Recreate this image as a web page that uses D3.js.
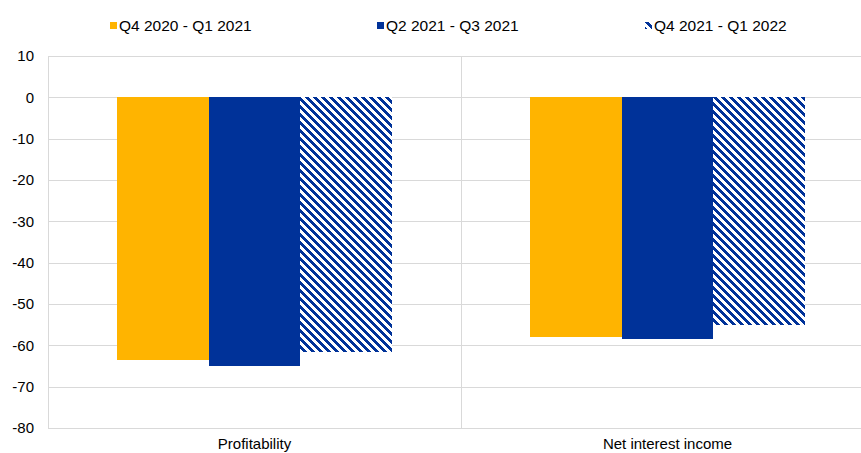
<!DOCTYPE html>
<html>
<head>
<meta charset="utf-8">
<script src="https://cdn.jsdelivr.net/npm/d3@7/dist/d3.min.js"></script>
<style>
  html, body { margin: 0; padding: 0; background: #fff; }
  svg { display: block; font-family: "Liberation Sans", Arial, sans-serif; }
</style>
</head>
<body>
<svg id="chart" width="861" height="453"></svg>
<script>
// Categories and series
const categories = ["Profitability", "Net interest income"];
const seriesNames = ["Q4 2020 - Q1 2021", "Q2 2021 - Q3 2021", "Q4 2021 - Q1 2022"];
const seriesValues = [
  [-63.5, -58.0],   // Q4 2020 - Q1 2021
  [-65.0, -58.5],   // Q2 2021 - Q3 2021
  [-61.6, -55.1]    // Q4 2021 - Q1 2022
];
const yTicks = [10, 0, -10, -20, -30, -40, -50, -60, -70, -80];

const yellow = "#FFB400";
const blue = "#003299";
const gridColor = "#d9d9d9";

const svg = d3.select("#chart");
const plot = { left: 48, right: 874, top: 56, bottom: 428 };

// Wide downward diagonal hatch, built pixel by pixel on an 8x8 tile
const defs = svg.append("defs");
const pat = defs.append("pattern")
  .attr("id", "hatch")
  .attr("patternUnits", "userSpaceOnUse")
  .attr("width", 8).attr("height", 8);
pat.append("rect").attr("width", 8).attr("height", 8).attr("fill", "#fff");
const cells = [];
for (let r = 0; r < 8; r++) {
  for (let c = 0; c < 8; c++) {
    if (((c - r) % 8 + 8) % 8 < 4) cells.push([c, r]);
  }
}
pat.selectAll("rect.px").data(cells).join("rect")
  .attr("class", "px")
  .attr("x", d => d[0]).attr("y", d => d[1])
  .attr("width", 1).attr("height", 1)
  .attr("fill", blue)
  .attr("shape-rendering", "crispEdges");

const fills = [yellow, blue, "url(#hatch)"];

// Scales
const y = d3.scaleLinear().domain([-80, 10]).range([plot.bottom, plot.top]);
const x0 = d3.scaleBand().domain(categories).range([plot.left, plot.right]).padding(0);
const x1 = d3.scaleBand().domain(d3.range(seriesNames.length))
  .range([0, x0.bandwidth()]).paddingInner(0).paddingOuter(0.752);

// Gridlines
svg.append("g").selectAll("line").data(yTicks).join("line")
  .attr("x1", plot.left).attr("x2", plot.right)
  .attr("y1", d => Math.round(y(d)) + 0.5).attr("y2", d => Math.round(y(d)) + 0.5)
  .attr("stroke", gridColor).attr("stroke-width", 1);

// Left axis line and category separators
const seps = [plot.left, x0(categories[1])];
svg.append("g").selectAll("line").data(seps).join("line")
  .attr("x1", d => Math.round(d) + 0.5).attr("x2", d => Math.round(d) + 0.5)
  .attr("y1", plot.top).attr("y2", plot.bottom)
  .attr("stroke", gridColor).attr("stroke-width", 1);

// Y tick labels
svg.append("g").selectAll("text").data(yTicks).join("text")
  .attr("x", 34).attr("y", d => y(d))
  .attr("dy", "0.36em")
  .attr("text-anchor", "end")
  .attr("font-size", 15)
  .attr("fill", "#000")
  .text(d => d);

// Bars
const barData = [];
seriesValues.forEach((vals, s) => {
  vals.forEach((v, c) => barData.push({ s, c, v }));
});
svg.append("g").selectAll("rect").data(barData).join("rect")
  .attr("x", d => x0(categories[d.c]) + x1(d.s))
  .attr("width", x1.bandwidth())
  .attr("y", d => y(Math.max(0, d.v)))
  .attr("height", d => Math.abs(y(d.v) - y(0)))
  .attr("fill", d => fills[d.s])
  .attr("shape-rendering", "crispEdges");

// Category labels
svg.append("g").selectAll("text").data(categories).join("text")
  .attr("x", d => x0(d) + x0.bandwidth() / 2)
  .attr("y", 449)
  .attr("text-anchor", "middle")
  .attr("font-size", 15)
  .attr("fill", "#000")
  .text(d => d);

// Legend
const legendX = [110, 377, 645];
const lg = svg.append("g").selectAll("g").data(seriesNames).join("g")
  .attr("transform", (d, i) => `translate(${legendX[i]},22)`);
lg.append("rect")
  .attr("width", 7).attr("height", 7)
  .attr("fill", (d, i) => fills[i])
  .attr("shape-rendering", "crispEdges");
lg.append("text")
  .attr("x", 9).attr("y", 8.5)
  .attr("font-size", 15.5)
  .attr("fill", "#000")
  .text(d => d);
</script>
</body>
</html>
